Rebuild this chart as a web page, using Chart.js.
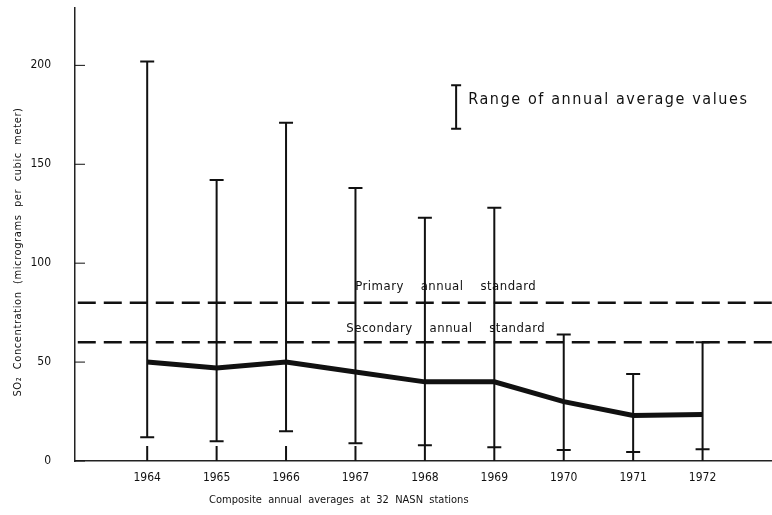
<!DOCTYPE html>
<html lang="en">
<head>
    <meta charset="UTF-8">
    <title>SO2 annual averages</title>
    <script src="https://cdn.jsdelivr.net/npm/chart.js"></script>
    <style>
        html, body { margin:0; padding:0; background:#fff; }
        #wrap { width:772px; height:515px; }
    </style>
</head>
<body>
    <div id="wrap"><canvas id="myChart"></canvas></div>

    <script>
        // data
        const years = [1964, 1965, 1966, 1967, 1968, 1969, 1970, 1971, 1972];
        const meanValues = [50, 47, 50, 45, 40, 40, 30, 23, 23.5];
        const rangeHigh = [202, 142, 171, 138, 123, 128, 64, 44, 60];
        const rangeLow = [12, 10, 15, 9, 8, 7, 5.5, 4.5, 6];
        const yTicks = [0, 50, 100, 150, 200];
        const primaryStd = 80;
        const secondaryStd = 60;

        const FONT = "'DejaVu Sans Condensed', 'Liberation Sans Narrow', sans-serif";

        // error bars, inner tick marks, titles and labels
        const extras = {
            id : 'extras',
            afterDatasetsDraw(chart){
                const ctx = chart.ctx;
                const x = chart.scales.x, y = chart.scales.y;
                const area = chart.chartArea;
                ctx.save();
                ctx.strokeStyle = '#111';
                ctx.fillStyle = '#111';

                // range bars
                ctx.lineWidth = 2;
                years.forEach((yr, i) => {
                    const px = x.getPixelForValue(yr);
                    const t = y.getPixelForValue(rangeHigh[i]);
                    const b = y.getPixelForValue(rangeLow[i]);
                    ctx.beginPath();
                    ctx.moveTo(px, t); ctx.lineTo(px, b);
                    ctx.moveTo(px - 7, t); ctx.lineTo(px + 7, t);
                    ctx.moveTo(px - 7, b); ctx.lineTo(px + 7, b);
                    // tick mark up from the axis
                    ctx.moveTo(px, area.bottom); ctx.lineTo(px, area.bottom - 15);
                    ctx.stroke();
                });

                // y tick marks pointing inside
                ctx.lineWidth = 1;
                yTicks.forEach(v => {
                    const py = y.getPixelForValue(v);
                    ctx.beginPath();
                    ctx.moveTo(area.left, py); ctx.lineTo(area.left + 10, py);
                    ctx.stroke();
                });

                // standard labels
                ctx.font = '13px ' + FONT;
                ctx.letterSpacing = '0.5px';
                ctx.textAlign = 'center';
                ctx.textBaseline = 'middle';
                const cx = x.getPixelForValue(1968.3);
                ctx.fillText('Primary    annual    standard', cx, y.getPixelForValue(primaryStd) - 16);
                ctx.fillText('Secondary    annual    standard', cx, y.getPixelForValue(secondaryStd) - 14);

                // axis titles
                ctx.font = '11px ' + FONT;
                ctx.letterSpacing = '0px';
                ctx.fillText('Composite  annual  averages  at  32  NASN  stations', x.getPixelForValue(1966.76), 500);
                ctx.save();
                ctx.translate(18, 252);
                ctx.rotate(-Math.PI / 2);
                ctx.letterSpacing = '0.6px';
                ctx.fillText('SO\u2082  Concentration  (micrograms  per  cubic  meter)', 0, 0);
                ctx.restore();

                // legend
                const lx = x.getPixelForValue(1968.45);
                const lt = y.getPixelForValue(190), lb = y.getPixelForValue(168);
                ctx.lineWidth = 2;
                ctx.beginPath();
                ctx.moveTo(lx, lt); ctx.lineTo(lx, lb);
                ctx.moveTo(lx - 5, lt); ctx.lineTo(lx + 5, lt);
                ctx.moveTo(lx - 5, lb); ctx.lineTo(lx + 5, lb);
                ctx.stroke();
                ctx.font = '16px ' + FONT;
                ctx.letterSpacing = '1.6px';
                ctx.textAlign = 'left';
                ctx.fillText('Range of annual average values', lx + 12, (lt + lb) / 2 - 7);
                ctx.restore();
            }
        };

        const stdLine = v => [{x : 1963, y : v}, {x : 1973, y : v}];

        var data = {
            datasets : [
                {
                    label : 'Composite annual average',
                    data : years.map((yr, i) => ({x : yr, y : meanValues[i]})),
                    borderColor : '#111',
                    borderWidth : 5,
                    pointRadius : 0,
                    tension : 0
                },
                {
                    label : 'Primary annual standard',
                    data : stdLine(primaryStd),
                    borderColor : '#111',
                    borderWidth : 2.5,
                    borderDash : [18, 8],
                    pointRadius : 0
                },
                {
                    label : 'Secondary annual standard',
                    data : stdLine(secondaryStd),
                    borderColor : '#111',
                    borderWidth : 2.5,
                    borderDash : [18, 8],
                    pointRadius : 0
                }
            ]
        };

        var options = {
            responsive : true,
            maintainAspectRatio : false,
            animation : false,
            layout : { padding : { top : 0, right : 0, bottom : 30, left : 31 } },
            plugins : { legend : { display : false }, tooltip : { enabled : false } },
            scales : {
                x : {
                    type : 'linear',
                    min : 1962.96, max : 1973,
                    afterBuildTicks : s => { s.ticks = years.map(v => ({value : v})); },
                    afterFit : s => { s.height = 24; s.paddingLeft = 0; s.paddingRight = 0; },
                    grid : { display : false, drawTicks : false },
                    border : { color : '#222', width : 1.5 },
                    ticks : {
                        padding : 10,
                        color : '#111',
                        font : { family : FONT, size : 12 },
                        callback : v => String(v)
                    }
                },
                y : {
                    min : 0, max : 229,
                    afterBuildTicks : s => { s.ticks = yTicks.map(v => ({value : v})); },
                    afterFit : s => { s.width = 44; s.paddingTop = 8; s.paddingBottom = 0; },
                    grid : { display : false, drawTicks : false },
                    border : { color : '#222', width : 1.5 },
                    ticks : {
                        padding : 24,
                        color : '#111',
                        font : { family : FONT, size : 12 }
                    }
                }
            }
        };

        var ctx = document.querySelector('#myChart').getContext('2d');
        var myChart = new Chart(ctx, {
            type : 'line',
            data : data,
            options : options,
            plugins : [extras]
        });
    </script>
</body>
</html>
